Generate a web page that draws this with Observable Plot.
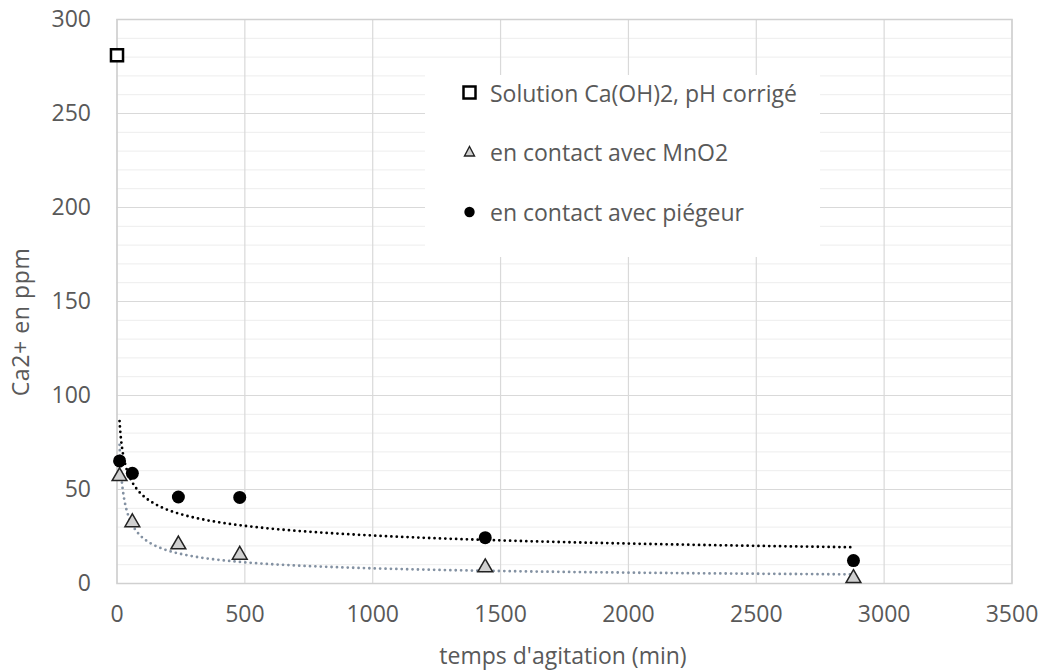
<!DOCTYPE html>
<html>
<head>
<meta charset="utf-8">
<script src="https://cdn.jsdelivr.net/npm/d3@7"></script>
<script src="https://cdn.jsdelivr.net/npm/@observablehq/plot@0.6"></script>
<style>
  html, body { margin: 0; padding: 0; background: #fff; }
  #wrap { position: relative; width: 1043px; height: 672px; font-family: "Open Sans", sans-serif; color: #595959; }
  #chart { position: absolute; left: 0; top: 0; }
  .legend { position: absolute; left: 425px; top: 75px; width: 395px; height: 182px; background: #fff; }
  .legend .item { position: absolute; left: 32px; height: 26px; display: flex; align-items: center; font-size: 23px; white-space: nowrap; }
  .legend svg { width: 26px; height: 24px; margin-right: 7px; flex: none; }
  .ytitle { position: absolute; left: 20px; top: 322px; transform: translate(-50%, -50%) rotate(-90deg); font-size: 23px; letter-spacing: 0.6px; white-space: nowrap; }
  .xtitle { position: absolute; left: 563px; top: 655px; transform: translate(-50%, -50%); font-size: 23px; white-space: nowrap; }
</style>
</head>
<body>
<div id="wrap">
  <div id="chart"></div>
  <div class="legend">
    <div class="item" style="top:5px"><svg viewBox="0 0 26 24"><rect x="6.5" y="5.5" width="12" height="12" fill="#fff" stroke="#000" stroke-width="2.5"/></svg>Solution Ca(OH)2, pH corrigé</div>
    <div class="item" style="top:64px"><svg viewBox="0 0 26 24"><path d="M12.5,6.5 L17.5,16 L7.5,16 Z" fill="#d0d0d0" stroke="#222" stroke-width="1.4"/></svg>en contact avec MnO2</div>
    <div class="item" style="top:124px"><svg viewBox="0 0 26 24"><circle cx="12.5" cy="12" r="5.2" fill="#000"/></svg>en contact avec piégeur</div>
  </div>
  <div class="ytitle">Ca2+ en ppm</div>
  <div class="xtitle">temps d'agitation (min)</div>
</div>
<script>
// Data (time in min, Ca2+ in ppm)
const solutionTime = [0];
const solutionCa = [281];
const mno2Time = [10, 60, 240, 480, 1440, 2880];
const mno2Ca = [57, 32.5, 20.7, 15.2, 8.5, 2.8];
const piegeurTime = [10, 60, 240, 480, 1440, 2880];
const piegeurCa = [65.2, 58.6, 46, 45.8, 24.4, 12.2];
const xTicks = [0, 500, 1000, 1500, 2000, 2500, 3000, 3500];
const yTicks = [0, 50, 100, 150, 200, 250, 300];
const yMinorStep = 10;

const toRows = (xs, ys) => xs.map((x, i) => ({x, y: ys[i]}));
const solution = toRows(solutionTime, solutionCa);
const mno2 = toRows(mno2Time, mno2Ca);
const piegeur = toRows(piegeurTime, piegeurCa);

// Power-law trendline (least squares in log-log space), like a spreadsheet "power" trendline
function powerTrend(rows) {
  const lx = rows.map(d => Math.log(d.x)), ly = rows.map(d => Math.log(d.y));
  const mx = d3.mean(lx), my = d3.mean(ly);
  const b = d3.sum(lx, (v, i) => (v - mx) * (ly[i] - my)) / d3.sum(lx, v => (v - mx) ** 2);
  const a = Math.exp(my - b * mx);
  const [x0, x1] = d3.extent(rows, d => d.x);
  return d3.range(0, 301).map(i => {
    const x = x0 * Math.pow(x1 / x0, i / 300);
    return {x, y: a * Math.pow(x, b)};
  });
}
const trendMnO2 = powerTrend(mno2);
const trendPiegeur = powerTrend(piegeur);

const yMinor = d3.range(yTicks[0], yTicks[yTicks.length - 1] + 1, yMinorStep).filter(v => !yTicks.includes(v));

const chart = Plot.plot({
  width: 1043,
  height: 672,
  marginLeft: 116.5,
  marginRight: 31.5,
  marginTop: 19,
  marginBottom: 89,
  style: {fontFamily: "'Open Sans', sans-serif", fontSize: "23px", color: "#595959", background: "#fff"},
  x: {domain: [0, 3500]},
  y: {domain: [0, 300]},
  marks: [
    Plot.ruleY(yMinor, {stroke: "#ededed", strokeWidth: 1, strokeOpacity: 1}),
    Plot.ruleY(yTicks, {stroke: "#d9d9d9", strokeWidth: 1.2, strokeOpacity: 1}),
    Plot.ruleX(xTicks, {stroke: "#d9d9d9", strokeWidth: 1.2, strokeOpacity: 1}),
    Plot.frame({stroke: "#d0d0d0", strokeWidth: 1.5}),
    Plot.axisX({ticks: xTicks, tickSize: 0, tickPadding: 22, label: null, tickFormat: d => String(d), fill: "#595959"}),
    Plot.axisY({ticks: yTicks, tickSize: 0, tickPadding: 26, label: null, tickFormat: d => String(d), fill: "#595959"}),
    Plot.line(trendMnO2, {x: "x", y: "y", stroke: "#8391a2", strokeWidth: 2.8, strokeLinecap: "round", strokeDasharray: "0 5.4", curve: "linear"}),
    Plot.line(trendPiegeur, {x: "x", y: "y", stroke: "#000", strokeWidth: 2.8, strokeLinecap: "round", strokeDasharray: "0 5.4", curve: "linear"}),
    Plot.dot(mno2, {x: "x", y: "y", symbol: "triangle", r: 5.5, fill: "#d0d0d0", stroke: "#222", strokeWidth: 1.5}),
    Plot.dot(piegeur, {x: "x", y: "y", symbol: "circle", r: 6.5, fill: "#000", stroke: "none"}),
    Plot.dot(solution, {x: "x", y: "y", symbol: "square", r: 6.8, fill: "#fff", stroke: "#000", strokeWidth: 2.5})
  ]
});
document.getElementById("chart").appendChild(chart);
</script>
</body>
</html>
